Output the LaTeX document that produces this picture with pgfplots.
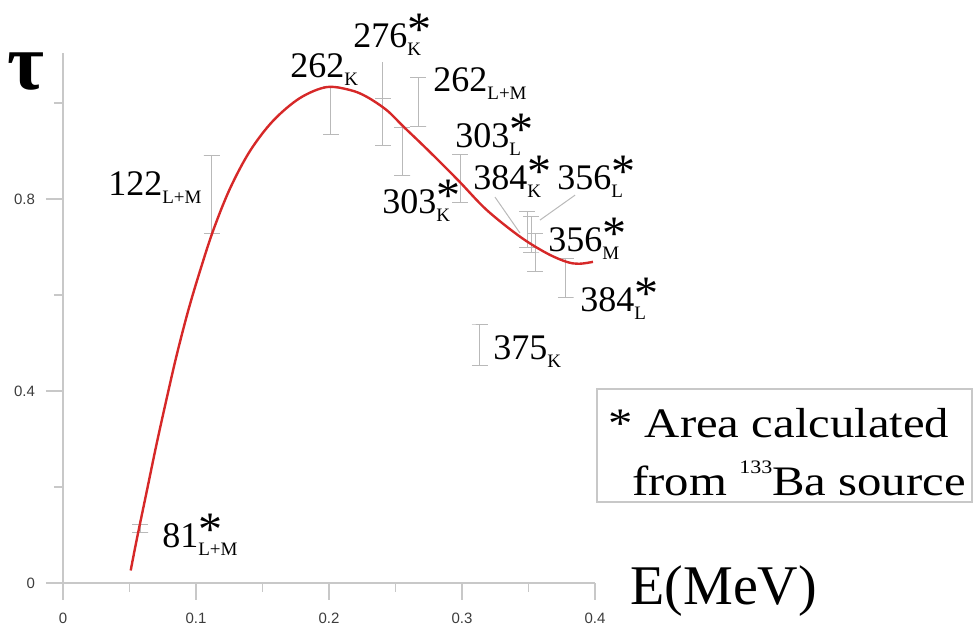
\documentclass[border=0pt]{standalone}
\usepackage{pgfplots}
\pgfplotsset{compat=1.18}
\usepackage{fontspec}
\setmainfont{Liberation Serif}
\setsansfont{Liberation Sans}
\newfontfamily\legfont[FakeStretch=1.16]{Liberation Serif}
\definecolor{axgray}{RGB}{200,200,200}
\definecolor{bargray}{RGB}{185,185,185}
\definecolor{curvered}{RGB}{214,40,40}
\definecolor{ticktext}{RGB}{60,60,60}
\newcommand{\lbl}[2]{\fontsize{18}{18}\selectfont #1\raisebox{-4pt}{\fontsize{9.5}{10}\selectfont #2}}
\newcommand{\lbls}[2]{\fontsize{18}{18}\selectfont #1\rlap{\raisebox{1pt}{\fontsize{24}{24}\selectfont *}}\raisebox{-4pt}{\fontsize{9.5}{10}\selectfont #2}}
\pgfplotsset{ebar/.style={bargray, line width=0.5pt, mark=none, forget plot}}
\begin{document}
\begin{tikzpicture}
\begin{axis}[
  anchor=origin, at={(0,0)},
  x=665pt, y=240pt,
  xmin=0, xmax=0.4, ymin=0, ymax=1.104,
  axis lines=left,
  axis line style={-, axgray, line width=0.6pt},
  clip=false,
  xtick={0,0.1,0.2,0.3,0.4},
  ytick={0,0.4,0.8},
  minor xtick={0.05,0.15,0.25,0.35},
  minor ytick={0.2,0.6,1.0},
  tick align=outside,
  major tick length=8.5pt,
  minor tick length=4.5pt,
  every tick/.style={axgray, line width=0.6pt},
  ticklabel style={font=\sffamily\fontsize{7.5}{8}\selectfont, text=ticktext},
  /pgf/number format/assume math mode=true,
  yticklabel style={xshift=-2pt},
  xticklabel style={yshift=-3pt},
  scaled ticks=false,
]
% measured points: error bars (cap, bar, cap)
\addplot[ebar] coordinates {(0.052,0.106) (0.064,0.106) (0.058,0.106) (0.058,0.121) (0.052,0.121) (0.064,0.121)};
\addplot[ebar] coordinates {(0.106,0.729) (0.118,0.729) (0.112,0.729) (0.112,0.890) (0.106,0.890) (0.118,0.890)};
\addplot[ebar] coordinates {(0.1955,0.935) (0.2075,0.935) (0.2015,0.935) (0.2015,1.035) (0.1955,1.035) (0.2075,1.035)};
\addplot[ebar] coordinates {(0.2346,0.911) (0.2466,0.911) (0.2406,0.911) (0.2406,1.010) (0.2346,1.010) (0.2466,1.010)};
\addplot[ebar] coordinates {(0.249,0.848) (0.261,0.848) (0.255,0.848) (0.255,0.948) (0.249,0.948) (0.261,0.948)};
\addplot[ebar] coordinates {(0.261,0.952) (0.273,0.952) (0.267,0.952) (0.267,1.054) (0.261,1.054) (0.273,1.054)};
\addplot[ebar] coordinates {(0.2925,0.792) (0.3045,0.792) (0.2985,0.792) (0.2985,0.892) (0.2925,0.892) (0.3045,0.892)};
\addplot[ebar] coordinates {(0.3429,0.698) (0.3549,0.698) (0.3489,0.698) (0.3489,0.773) (0.3429,0.773) (0.3549,0.773)};
\addplot[ebar] coordinates {(0.3460,0.6875) (0.3580,0.6875) (0.3520,0.6875) (0.3520,0.763) (0.3460,0.763) (0.3580,0.763)};
\addplot[ebar] coordinates {(0.3489,0.648) (0.3609,0.648) (0.3549,0.648) (0.3549,0.729) (0.3489,0.729) (0.3609,0.729)};
\addplot[ebar] coordinates {(0.372,0.594) (0.384,0.594) (0.378,0.594) (0.378,0.675) (0.372,0.675) (0.384,0.675)};
\addplot[ebar] coordinates {(0.3075,0.454) (0.3195,0.454) (0.3135,0.454) (0.3135,0.5375) (0.3075,0.5375) (0.3195,0.5375)};
% leader lines
\addplot[ebar] coordinates {(0.2406,1.010) (0.2406,1.085)};
\addplot[ebar] coordinates {(0.3248,0.804) (0.3436,0.729)};
\addplot[ebar] coordinates {(0.385,0.808) (0.3586,0.756)};
% fitted curve
\addplot[curvered, line width=1.2pt, smooth, tension=0.55, mark=none] coordinates {
(0.0509,0.026) (0.0554,0.09) (0.0629,0.19) (0.0704,0.29) (0.078,0.385)
(0.0855,0.475) (0.0942,0.568) (0.103,0.65) (0.113,0.735) (0.1256,0.822)
(0.1406,0.9) (0.158,0.963) (0.178,1.010) (0.198,1.033) (0.2158,1.027)
(0.2283,1.013) (0.2434,0.985) (0.2559,0.951) (0.2684,0.918) (0.2835,0.877)
(0.2985,0.835) (0.3186,0.777) (0.3436,0.7215) (0.3637,0.687) (0.3787,0.669)
(0.388,0.665) (0.3985,0.669)
};
% labels
\node[anchor=base west, inner sep=0] at (axis cs:0.0338,0.8083) {\lbl{122}{L+M}};
\node[anchor=base west, inner sep=0] at (axis cs:0.0744,0.0729) {\lbls{81}{L+M}};
\node[anchor=base west, inner sep=0] at (axis cs:0.1707,1.0521) {\lbl{262}{K}};
\node[anchor=base west, inner sep=0] at (axis cs:0.2180,1.1146) {\lbls{276}{K}};
\node[anchor=base west, inner sep=0] at (axis cs:0.2782,1.0229) {\lbl{262}{L+M}};
\node[anchor=base west, inner sep=0] at (axis cs:0.2947,0.9083) {\lbls{303}{L}};
\node[anchor=base west, inner sep=0] at (axis cs:0.3083,0.8188) {\lbls{384}{K}};
\node[anchor=base west, inner sep=0] at (axis cs:0.3714,0.8188) {\lbls{356}{L}};
\node[anchor=base west, inner sep=0] at (axis cs:0.2398,0.7708) {\lbls{303}{K}};
\node[anchor=base west, inner sep=0] at (axis cs:0.3647,0.6896) {\lbls{356}{M}};
\node[anchor=base west, inner sep=0] at (axis cs:0.3887,0.5646) {\lbls{384}{L}};
\node[anchor=base west, inner sep=0] at (axis cs:0.3233,0.4646) {\lbl{375}{K}};
% axis titles
\node at (axis cs:-0.0278,1.066) {\fontsize{40}{40}\selectfont\bfseries τ};
\node[anchor=base west, inner sep=0] at (axis cs:0.4263,-0.0458) {\fontsize{28}{28}\selectfont E(MeV)};
% note box
\draw[axgray, line width=0.6pt] (axis cs:0.4015,0.4042) rectangle (axis cs:0.6835,0.1688);
\node[anchor=base west, inner sep=0] at (axis cs:0.4098,0.3021) {\legfont\fontsize{21}{21}\selectfont * Area calculated};
\node[anchor=base west, inner sep=0] at (axis cs:0.4278,0.1833) {\legfont\fontsize{21}{21}\selectfont from \raisebox{11pt}{\fontsize{9.5}{10}\selectfont 133}Ba source};
\end{axis}
\pgfresetboundingbox
\path[use as bounding box] (-31.5pt,-20.5pt) rectangle (456.5pt,291.5pt);
\end{tikzpicture}
\end{document}
